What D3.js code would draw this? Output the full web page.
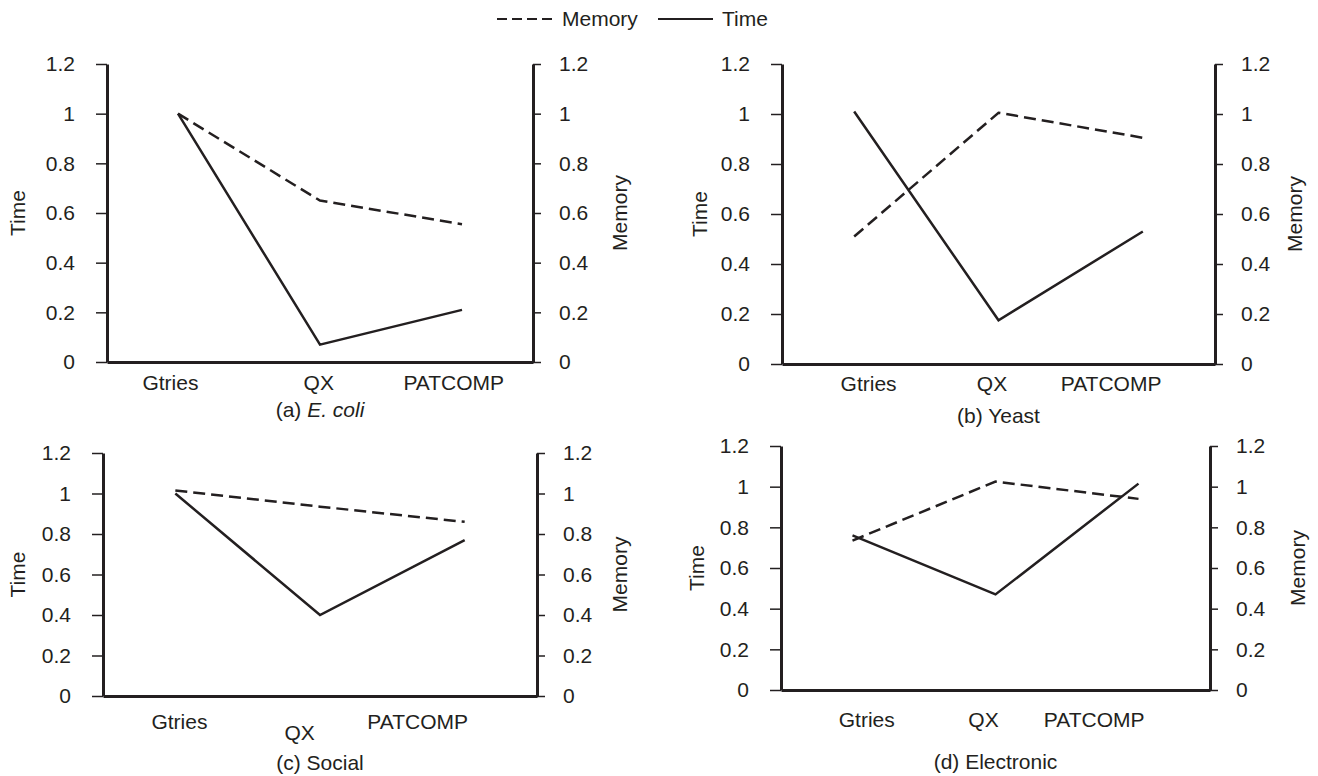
<!DOCTYPE html>
<html>
<head>
<meta charset="utf-8">
<script src="https://cdn.jsdelivr.net/npm/d3@7"></script>
<style>
  body { margin: 0; background: #fff; }
  text { font-family: "Liberation Sans", Arial, sans-serif; fill: #231f20; }
</style>
</head>
<body>
<script>
// data
var categories = ["Gtries", "QX", "PATCOMP"];
var yTicks = [0, 0.2, 0.4, 0.6, 0.8, 1, 1.2];
var tickLabels = ["0", "0.2", "0.4", "0.6", "0.8", "1", "1.2"];

var timeEcoli = [1.0, 0.07, 0.21];
var memEcoli = [1.0, 0.65, 0.555];
var timeYeast = [1.01, 0.175, 0.53];
var memYeast = [0.51, 1.005, 0.905];
var timeSocial = [1.0, 0.40, 0.77];
var memSocial = [1.015, 0.935, 0.86];
var timeElec = [0.76, 0.47, 1.015];
var memElec = [0.735, 1.025, 0.94];

var ink = "#231f20";
var fs = 21;

// layout of the four panels
var panels = [
  {time: timeEcoli, mem: memEcoli, cap: ["(a) ", "E. coli"], left: 107, right: 533, top: 64, bottom: 362,
   labelX: [0.149, 0.497, 0.814], labelDy: [21, 21, 21], capY: 410, yTitleX: 18, mTitleX: 620},
  {time: timeYeast, mem: memYeast, cap: ["(b) Yeast"], left: 782, right: 1215, top: 64, bottom: 364,
   labelX: [0.20, 0.485, 0.76], labelDy: [20, 20, 20], capY: 416, yTitleX: 700, mTitleX: 1295},
  {time: timeSocial, mem: memSocial, cap: ["(c) Social"], left: 103, right: 537, top: 453, bottom: 696,
   labelX: [0.176, 0.453, 0.725], labelDy: [26, 37, 26], capY: 763, yTitleX: 18, mTitleX: 620},
  {time: timeElec, mem: memElec, cap: ["(d) Electronic"], left: 781, right: 1210, top: 446, bottom: 690,
   labelX: [0.20, 0.472, 0.73], labelDy: [30, 30, 30], capY: 762, yTitleX: 697, mTitleX: 1298}
];

var svg = d3.select("body").append("svg")
    .attr("width", 1318)
    .attr("height", 776);

// legend
var lg = svg.append("g").attr("transform", "translate(0,19)");
lg.append("line").attr("x1", 497).attr("x2", 552).attr("y1", 0).attr("y2", 0)
    .attr("stroke", ink).attr("stroke-width", 2.2).attr("stroke-dasharray", "10,5");
lg.append("text").attr("x", 562).attr("y", 7).attr("font-size", fs).text("Memory");
lg.append("line").attr("x1", 658).attr("x2", 713).attr("y1", 0).attr("y2", 0)
    .attr("stroke", ink).attr("stroke-width", 2.2);
lg.append("text").attr("x", 722).attr("y", 7).attr("font-size", fs).text("Time");

panels.forEach(function(p) {
  var x = d3.scalePoint().domain(categories).range([p.left, p.right]).padding(0.5);
  var y = d3.scaleLinear().domain([0, 1.2]).range([p.bottom, p.top]);
  var g = svg.append("g");

  var fmt = function(d, i) { return tickLabels[i]; };

  var ax = g.append("g")
      .attr("transform", "translate(" + p.left + ",0)")
      .call(d3.axisLeft(y).tickValues(yTicks).tickFormat(fmt).tickSize(11).tickSizeOuter(0).tickPadding(21));
  var ax2 = g.append("g")
      .attr("transform", "translate(" + p.right + ",0)")
      .call(d3.axisRight(y).tickValues(yTicks).tickFormat(fmt).tickSize(8).tickSizeOuter(0).tickPadding(18));
  var ax3 = g.append("g")
      .attr("transform", "translate(0," + p.bottom + ")")
      .call(d3.axisBottom(x).tickSize(0).tickSizeOuter(0).tickFormat(""));

  [ax, ax2, ax3].forEach(function(a) {
    a.select(".domain").attr("stroke", ink).attr("stroke-width", 3);
    a.selectAll(".tick line").attr("stroke", ink).attr("stroke-width", 1.5);
    a.selectAll(".tick text").attr("font-size", fs).attr("fill", ink)
      .style("font-family", "'Liberation Sans', Arial, sans-serif");
  });

  // category labels
  g.selectAll(".cat").data(categories).enter().append("text")
      .attr("class", "cat")
      .attr("x", function(d, i) { return p.left + p.labelX[i] * (p.right - p.left); })
      .attr("y", function(d, i) { return p.bottom + p.labelDy[i] + 7; })
      .attr("text-anchor", "middle")
      .attr("font-size", fs)
      .text(function(d) { return d; });

  // caption
  var cap = g.append("text")
      .attr("x", (p.left + p.right) / 2)
      .attr("y", p.capY + 7)
      .attr("text-anchor", "middle")
      .attr("font-size", fs);
  cap.append("tspan").text(p.cap[0]);
  if (p.cap[1]) cap.append("tspan").attr("font-style", "italic").text(p.cap[1]);

  // axis titles
  var mid = (p.top + p.bottom) / 2;
  g.append("text")
      .attr("transform", "translate(" + (p.yTitleX + 7) + "," + mid + ") rotate(-90)")
      .attr("text-anchor", "middle").attr("font-size", fs).text("Time");
  g.append("text")
      .attr("transform", "translate(" + (p.mTitleX + 7) + "," + mid + ") rotate(-90)")
      .attr("text-anchor", "middle").attr("font-size", fs).text("Memory");

  var line = d3.line()
      .x(function(d, i) { return x(categories[i]); })
      .y(function(d) { return y(d); });

  g.append("path").datum(p.mem)
      .attr("d", line).attr("fill", "none")
      .attr("stroke", ink).attr("stroke-width", 2.5)
      .attr("stroke-dasharray", "12,6");
  g.append("path").datum(p.time)
      .attr("d", line).attr("fill", "none")
      .attr("stroke", ink).attr("stroke-width", 2.5);
});
</script>
</body>
</html>
